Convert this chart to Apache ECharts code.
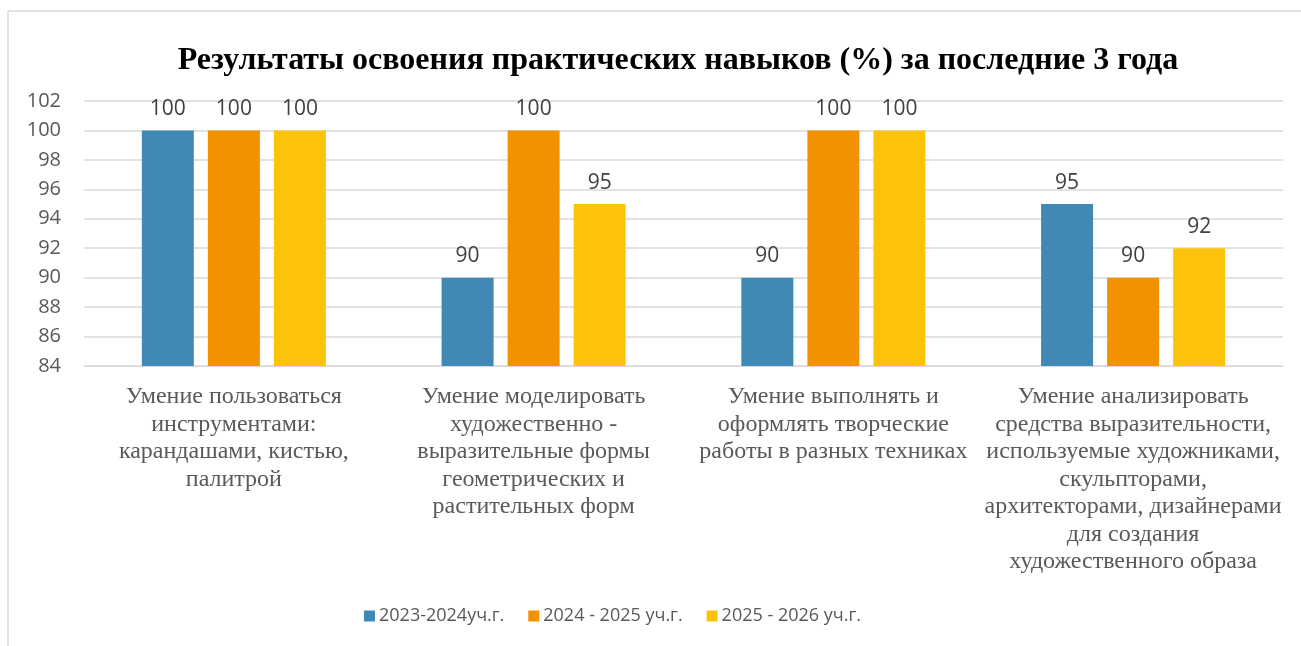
<!DOCTYPE html>
<html>
<head>
<meta charset="utf-8">
<script src="https://cdn.jsdelivr.net/npm/echarts@6/dist/echarts.min.js"></script>
<style>
    html, body { margin: 0; padding: 0; background: #fff; }
    #chart { width: 1301px; height: 646px; }
</style>
</head>
<body>
<div id="chart"></div>
<script>
// categories (x axis)
const categories = [
    'Умение пользоваться\nинструментами:\nкарандашами, кистью,\nпалитрой',
    'Умение моделировать\nхудожественно -\nвыразительные формы\nгеометрических и\nрастительных форм',
    'Умение выполнять и\nоформлять творческие\nработы в разных техниках',
    'Умение анализировать\nсредства выразительности,\nиспользуемые художниками,\nскульпторами,\nархитекторами, дизайнерами\nдля создания\nхудожественного образа'
];
const seriesNames = ['2023-2024уч.г.', '2024 - 2025 уч.г.', '2025 - 2026 уч.г.'];
const values2023 = [100, 90, 90, 95];
const values2024 = [100, 100, 100, 90];
const values2025 = [100, 95, 100, 92];

const colors = ['#4189b5', '#f39200', '#fdc20c'];
const sansFont = '"Open Sans", "Noto Sans", sans-serif';
const serifFont = '"Liberation Serif", "DejaVu Serif", serif';

const chart = echarts.init(document.getElementById('chart'));

const barLabel = {
    show: true,
    position: 'top',
    distance: 11,
    color: '#404040',
    fontFamily: sansFont,
    fontSize: 21
};

const makeSeries = (name, data, color) => ({
    name,
    type: 'bar',
    data,
    barWidth: 52,
    barGap: '27%',
    itemStyle: { color },
    label: barLabel
});

chart.setOption({
    animation: false,
    title: {
        text: 'Результаты освоения практических навыков (%) за последние 3 года',
        left: 673,
        textAlign: 'center',
        top: 40,
        textStyle: {
            fontFamily: serifFont,
            fontWeight: 'bold',
            fontSize: 32,
            color: '#000'
        }
    },
    legend: {
        data: seriesNames,
        top: 602,
        left: 359,
        itemWidth: 11,
        itemHeight: 11,
        itemGap: 24,
        icon: 'rect',
        textStyle: {
            fontFamily: sansFont,
            fontSize: 18,
            color: '#595959',
            padding: [0, 0, 0, -1]
        }
    },
    grid: {
        left: 84,
        right: 18,
        top: 101,
        bottom: 280
    },
    xAxis: {
        type: 'category',
        data: categories,
        axisLine: { lineStyle: { color: '#d9d9d9', width: 1 } },
        axisTick: { show: false },
        axisLabel: {
            interval: 0,
            margin: 17,
            fontFamily: serifFont,
            fontSize: 24,
            lineHeight: 27.5,
            color: '#595959'
        }
    },
    yAxis: {
        type: 'value',
        min: 84,
        max: 102,
        interval: 2,
        axisLine: { show: false },
        axisTick: { show: false },
        splitLine: { lineStyle: { color: '#d9d9d9', width: 1.5 } },
        axisLabel: {
            margin: 23,
            fontFamily: sansFont,
            fontSize: 20,
            color: '#595959'
        }
    },
    series: [
        makeSeries(seriesNames[0], values2023, colors[0]),
        makeSeries(seriesNames[1], values2024, colors[1]),
        makeSeries(seriesNames[2], values2025, colors[2])
    ],
    graphic: [
        { type: 'line', shape: { x1: 8, y1: 11, x2: 1301, y2: 11 }, style: { stroke: '#d9d9d9', lineWidth: 1.5 } },
        { type: 'line', shape: { x1: 8, y1: 11, x2: 8, y2: 646 }, style: { stroke: '#d9d9d9', lineWidth: 1.5 } }
    ]
});
</script>
</body>
</html>
